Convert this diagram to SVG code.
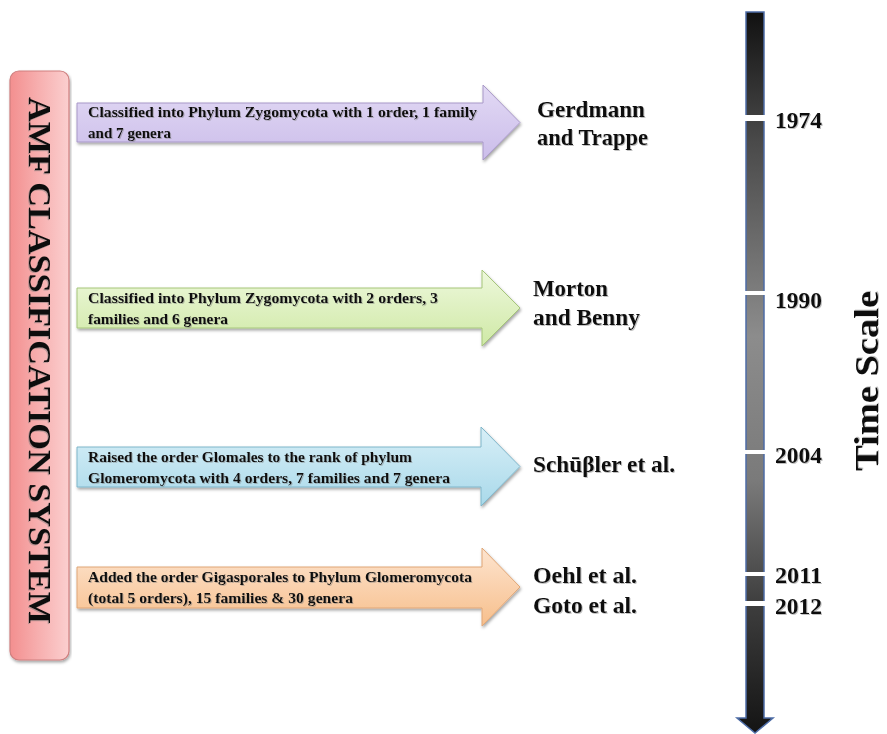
<svg xmlns="http://www.w3.org/2000/svg" width="887" height="734" viewBox="0 0 887 734">
  <defs>
    <linearGradient id="gPurple" x1="0" y1="0" x2="0" y2="1">
      <stop offset="0" stop-color="#e2d9f4"/>
      <stop offset="1" stop-color="#cbbdea"/>
    </linearGradient>
    <linearGradient id="gGreen" x1="0" y1="0" x2="0" y2="1">
      <stop offset="0" stop-color="#eef8dc"/>
      <stop offset="1" stop-color="#cfe9a6"/>
    </linearGradient>
    <linearGradient id="gBlue" x1="0" y1="0" x2="0" y2="1">
      <stop offset="0" stop-color="#d8eff7"/>
      <stop offset="1" stop-color="#a9d9ea"/>
    </linearGradient>
    <linearGradient id="gOrange" x1="0" y1="0" x2="0" y2="1">
      <stop offset="0" stop-color="#fde4cf"/>
      <stop offset="1" stop-color="#f7bf8c"/>
    </linearGradient>
    <linearGradient id="gRed" x1="0" y1="0" x2="1" y2="0">
      <stop offset="0" stop-color="#f38f8f"/>
      <stop offset="0.5" stop-color="#f7b0b0"/>
      <stop offset="1" stop-color="#fbcfcf"/>
    </linearGradient>
    <linearGradient id="gTime" gradientUnits="userSpaceOnUse" x1="0" y1="12" x2="0" y2="733">
      <stop offset="0" stop-color="#111111"/>
      <stop offset="0.18" stop-color="#4a4a4a"/>
      <stop offset="0.45" stop-color="#8c8c8c"/>
      <stop offset="0.65" stop-color="#7a7a7a"/>
      <stop offset="0.82" stop-color="#3e3e3e"/>
      <stop offset="1" stop-color="#141414"/>
    </linearGradient>
    <filter id="shadow" x="-5%" y="-20%" width="110%" height="150%">
      <feDropShadow dx="1" dy="2" stdDeviation="1.5" flood-color="#000" flood-opacity="0.35"/>
    </filter>
    <filter id="tshadow" x="-5%" y="-30%" width="110%" height="160%">
      <feDropShadow dx="1" dy="1" stdDeviation="0.6" flood-color="#777" flood-opacity="0.45"/>
    </filter>
  </defs>
  <style>
    .desc { font-family: "Liberation Serif", "Times New Roman", serif; font-weight: bold; font-size: 15.5px; fill: #111; }
    .auth { font-family: "Liberation Serif", "Times New Roman", serif; font-weight: bold; font-size: 24px; fill: #111; }
    .year { font-family: "Liberation Serif", "Times New Roman", serif; font-weight: bold; font-size: 23px; fill: #111; }
    .title { font-family: "Liberation Serif", "Times New Roman", serif; font-weight: bold; font-size: 32px; fill: #111; }
    .axis { font-family: "Liberation Serif", "Times New Roman", serif; font-weight: bold; font-size: 33px; fill: #111; }
  </style>

  <rect width="887" height="734" fill="#ffffff"/>

  <!-- vertical title box -->
  <g id="amf-box">
    <rect x="10" y="71" width="59" height="589" rx="9" fill="url(#gRed)" stroke="#cf7f7f" stroke-width="1.2" filter="url(#shadow)"/>
    <text class="title" transform="translate(29,97) rotate(90)" textLength="527" lengthAdjust="spacingAndGlyphs" filter="url(#tshadow)">AMF CLASSIFICATION  SYSTEM</text>
  </g>

  <!-- classification step arrows -->
  <g id="step-1974">
    <path d="M77,103 H483 V85 L520,122.5 L483,160 V142 H77 Z" fill="url(#gPurple)" stroke="#a898c8" filter="url(#shadow)"/>
    <text class="desc" x="88" y="117" textLength="389" lengthAdjust="spacingAndGlyphs" filter="url(#tshadow)">Classified into Phylum Zygomycota with 1 order, 1 family</text>
    <text class="desc" x="88" y="138" textLength="83" lengthAdjust="spacingAndGlyphs" filter="url(#tshadow)">and 7 genera</text>
  </g>
  <g id="step-1990">
    <path d="M77,288 H482 V270 L520,308 L482,346 V328 H77 Z" fill="url(#gGreen)" stroke="#a6c67a" filter="url(#shadow)"/>
    <text class="desc" x="88" y="303" textLength="350" lengthAdjust="spacingAndGlyphs" filter="url(#tshadow)">Classified into Phylum Zygomycota with 2 orders, 3</text>
    <text class="desc" x="88" y="324" textLength="140" lengthAdjust="spacingAndGlyphs" filter="url(#tshadow)">families and 6 genera</text>
  </g>
  <g id="step-2004">
    <path d="M77,447 H481 V427 L520,466.5 L481,506 V487 H77 Z" fill="url(#gBlue)" stroke="#7fb6ca" filter="url(#shadow)"/>
    <text class="desc" x="88" y="462" textLength="324" lengthAdjust="spacingAndGlyphs" filter="url(#tshadow)">Raised the order Glomales  to the rank of phylum</text>
    <text class="desc" x="88" y="483" textLength="362" lengthAdjust="spacingAndGlyphs" filter="url(#tshadow)">Glomeromycota with 4 orders, 7 families  and 7 genera</text>
  </g>
  <g id="step-2011">
    <path d="M77,567 H482 V548 L520,587 L482,626 V608 H77 Z" fill="url(#gOrange)" stroke="#e0a676" filter="url(#shadow)"/>
    <text class="desc" x="88" y="582" textLength="384" lengthAdjust="spacingAndGlyphs" filter="url(#tshadow)">Added the order Gigasporales to Phylum  Glomeromycota</text>
    <text class="desc" x="88" y="603" textLength="265" lengthAdjust="spacingAndGlyphs" filter="url(#tshadow)">(total 5 orders), 15 families  &amp; 30 genera</text>
  </g>

  <!-- authors -->
  <g id="authors" filter="url(#tshadow)">
    <text class="auth" x="537" y="117" textLength="108" lengthAdjust="spacingAndGlyphs">Gerdmann</text>
    <text class="auth" x="537" y="145" textLength="111" lengthAdjust="spacingAndGlyphs">and Trappe</text>
    <text class="auth" x="533" y="296" textLength="75" lengthAdjust="spacingAndGlyphs">Morton</text>
    <text class="auth" x="533" y="325" textLength="107" lengthAdjust="spacingAndGlyphs">and Benny</text>
    <text class="auth" x="533" y="472" textLength="142" lengthAdjust="spacingAndGlyphs">Schūβler et al.</text>
    <text class="auth" x="533" y="583" textLength="104" lengthAdjust="spacingAndGlyphs">Oehl et al.</text>
    <text class="auth" x="533" y="613" textLength="104" lengthAdjust="spacingAndGlyphs">Goto et al.</text>
  </g>

  <!-- time scale axis -->
  <g id="timeline">
    <path d="M746,12 H764 V718 H773 L755,733 L737,718 H746 Z" fill="url(#gTime)" stroke="#4d6ca6" stroke-width="1.5"/>
    <g fill="#ffffff">
      <rect x="742" y="115" width="26" height="6"/>
      <rect x="742" y="291" width="26" height="4"/>
      <rect x="742" y="450" width="26" height="4"/>
      <rect x="742" y="572" width="26" height="4"/>
      <rect x="742" y="601" width="26" height="5"/>
    </g>
  </g>

  <g id="years" filter="url(#tshadow)">
    <text class="year" x="775" y="128" textLength="47" lengthAdjust="spacingAndGlyphs">1974</text>
    <text class="year" x="775" y="308" textLength="47" lengthAdjust="spacingAndGlyphs">1990</text>
    <text class="year" x="775" y="463" textLength="47" lengthAdjust="spacingAndGlyphs">2004</text>
    <text class="year" x="775" y="583" textLength="47" lengthAdjust="spacingAndGlyphs">2011</text>
    <text class="year" x="775" y="614" textLength="47" lengthAdjust="spacingAndGlyphs">2012</text>
  </g>

  <g id="time-scale-label">
    <text class="axis" transform="translate(878,471) rotate(-90)" textLength="180" lengthAdjust="spacingAndGlyphs" filter="url(#tshadow)">Time Scale</text>
  </g>
</svg>
